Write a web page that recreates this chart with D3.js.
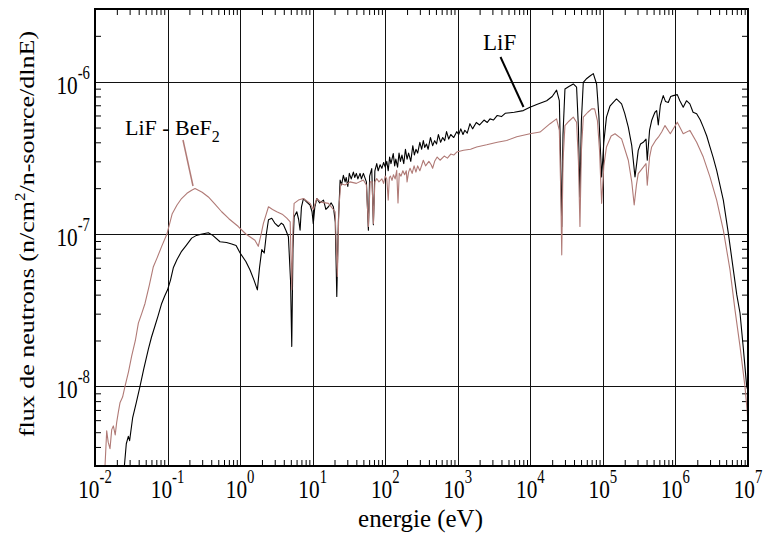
<!DOCTYPE html>
<html><head><meta charset="utf-8">
<script src="https://cdn.jsdelivr.net/npm/d3@7"></script>
<style>body{margin:0;background:#fff}svg{display:block}text{font-family:"Liberation Serif","Times New Roman",Times,serif;fill:#000}</style>
</head><body>
<svg id="c" width="763" height="538"></svg>
<script>
// ---- data ----
const lifEnergy = [0.0254,0.027,0.0288,0.03,0.033,0.037,0.0417,0.047,0.0543,0.06,0.0672,0.074,0.083,0.091,0.1,0.11,0.12,0.135,0.156,0.18,0.215,0.25,0.3,0.365,0.42,0.528,0.65,0.766,0.88,1.0,1.2,1.37,1.55,1.73,1.85,1.99,2.15,2.3,2.46,2.73,3.0,3.37,3.7,3.95,4.3,4.63,4.95,5.15,5.35,5.55,6.04,6.4,6.71,7.0,7.46,8.3,9.2,9.8,10.2,10.7,11.4,12.5,14.1,15.2,16.5,18,19.3,20.5,21.5,22.6,23.9,25,26.5,28,29,30.5,32,34,36.4,38,40,42,45,47,50,55,58.6,61,65.2,68.7,72,76.4,80,85,90,95,100,105,110,115,120,129,135,140,148,155,162,170,180,190,200,210,225,240,252,265,280,300,318,335,350,370,390,420,450,480,510,540,580,620,660,700,750,800,880,966,1030,1100,1180,1250,1350,1472,1600,1800,2000,2300,2550,2780,3100,3500,4000,4500,6000,8000,9880,12500,16800,20000,23000,25100,26200,27100,28200,30000,34000,39100,43400,46000,48300,50500,53700,60000,66400,73800,81900,88000,96100,103000,112000,125000,139000,154000,181000,200000,224000,250000,277000,292000,307000,330000,360000,393000,409000,440000,470000,500000,522000,551000,580000,620000,679000,730000,796000,860000,933000,1060000,1150000,1280000,1420000,1580000,1750000,1960000,2200000,2420000,2700000,2990000,3300000,3700000,4100000,4570000,5360000,6280000,7000000,7760000,8600000,9600000,10000000];
const lifFlux = [3.0e-9,4.2e-9,4.7e-9,4.4e-9,6.2e-9,7.8e-9,1.0e-8,1.3e-8,1.75e-8,2.1e-8,2.5e-8,2.9e-8,3.5e-8,3.9e-8,4.3e-8,5.0e-8,6.0e-8,6.8e-8,7.7e-8,8.4e-8,9.4e-8,9.8e-8,1.0e-7,1.02e-7,9.8e-8,8.9e-8,8.8e-8,8.6e-8,8.4e-8,7.5e-8,6.6e-8,5.8e-8,5.0e-8,4.3e-8,6.0e-8,7.9e-8,7.5e-8,1.0e-7,1.24e-7,1.27e-7,1.18e-7,1.12e-7,1.18e-7,1.15e-7,1.05e-7,9.6e-8,5.0e-8,1.83e-8,8.0e-8,1.3e-7,1.4e-7,1.25e-7,1.06e-7,1.5e-7,1.71e-7,1.62e-7,1.55e-7,1.4e-7,1.17e-7,1.5e-7,1.71e-7,1.6e-7,1.67e-7,1.45e-7,1.51e-7,1.6e-7,1.51e-7,1.2e-7,3.89e-8,1.2e-7,2.26e-7,2.1e-7,2.43e-7,2.2e-7,2.35e-7,2.05e-7,2.5e-7,2.3e-7,2.55e-7,2.35e-7,2.5e-7,2.3e-7,2.5e-7,2.3e-7,2.5e-7,2.2e-7,1.06e-7,2.4e-7,2.69e-7,1.15e-7,2.6e-7,2.9e-7,2.6e-7,2.85e-7,2.7e-7,2.95e-7,2.75e-7,3.0e-7,2.6e-7,3.2e-7,2.9e-7,3.37e-7,2.8e-7,3.1e-7,2.75e-7,3.4e-7,3.0e-7,3.3e-7,2.9e-7,3.6e-7,3.1e-7,3.4e-7,3.0e-7,3.8e-7,3.3e-7,3.6e-7,3.4e-7,4.0e-7,3.6e-7,4.11e-7,3.7e-7,3.9e-7,3.6e-7,4.3e-7,3.8e-7,4.1e-7,3.9e-7,4.5e-7,4.0e-7,4.3e-7,4.1e-7,4.7e-7,4.2e-7,4.5e-7,4.3e-7,4.7e-7,4.5e-7,4.9e-7,4.5e-7,4.8e-7,4.6e-7,5.3e-7,4.9e-7,5.4e-7,5.2e-7,5.6e-7,5.4e-7,5.7e-7,5.6e-7,6.0e-7,5.9e-7,6.2e-7,6.3e-7,6.46e-7,6.8e-7,7.1e-7,7.5e-7,8.0e-7,8.8e-7,7.5e-7,3.0e-7,1.12e-7,4.5e-7,8.96e-7,9.3e-7,9.66e-7,9.2e-7,5.0e-7,1.75e-7,5.5e-7,9.9e-7,1.05e-6,1.09e-6,1.13e-6,9.66e-7,6.0e-7,2.37e-7,4.0e-7,5.85e-7,6.9e-7,7.32e-7,7.7e-7,7.15e-7,6.2e-7,5.03e-7,3.8e-7,2.37e-7,2.9e-7,3.54e-7,3.9e-7,4.0e-7,4.2e-7,3.05e-7,4.8e-7,5.56e-7,6.0e-7,6.3e-7,6.46e-7,5.2e-7,7.0e-7,8.1e-7,7.4e-7,7.3e-7,8.0e-7,8.1e-7,8.22e-7,7.5e-7,6.79e-7,7.5e-7,7.15e-7,6.3e-7,6.15e-7,5.6e-7,5.03e-7,4.4e-7,3.73e-7,3.2e-7,2.62e-7,2.1e-7,1.67e-7,1.01e-7,5.82e-8,4.0e-8,3.03e-8,1.8e-8,1.0e-8,9.3e-9];

const befEnergy = [0.01374,0.0145,0.0152,0.0161,0.017,0.0179,0.019,0.0199,0.021,0.0221,0.024,0.0259,0.029,0.032,0.036,0.0396,0.044,0.0489,0.056,0.0637,0.072,0.083,0.098,0.116,0.135,0.156,0.185,0.215,0.239,0.3,0.365,0.45,0.557,0.7,0.944,1.2,1.6,1.78,1.95,2.09,2.46,2.8,3.2,3.8,4.4,4.9,5.15,5.35,5.55,6.37,7.46,9.2,10.2,11.4,13,16.5,20.4,21.9,23.0,24.4,28,32.7,40,50,55,58.6,62,66,68.7,72,76.4,82,90,95,100,105,110,114,118,124,130,137,144,150,156,165,175,185,195,200,210,220,235,250,265,280,300,320,335,360,400,430,450,480,520,570,650,720,800,880,966,1200,1500,1820,2500,3500,4720,6500,9880,13600,18700,23000,25100,26200,27100,28200,30000,34000,39100,43400,46000,48300,50500,53700,62000,70000,77000,84000,90000,96100,103000,112000,130000,147000,181000,224000,250000,270000,290000,307000,350000,393000,409000,440000,470000,530000,581000,646000,718000,850000,1060000,1280000,1580000,1960000,2420000,2990000,3700000,4570000,5650000,6610000,7760000,9080000,9800000,10000000];
const befFlux = [3.0e-9,5.1e-9,4.3e-9,3.9e-9,5.2e-9,5.5e-9,4.8e-9,5.8e-9,6.8e-9,7.8e-9,8.5e-9,1.0e-8,1.25e-8,1.58e-8,2.0e-8,2.6e-8,3.0e-8,3.5e-8,4.6e-8,6.1e-8,7.0e-8,8.3e-8,1.0e-7,1.36e-7,1.55e-7,1.71e-7,1.85e-7,1.94e-7,1.99e-7,1.88e-7,1.75e-7,1.57e-7,1.4e-7,1.26e-7,1.12e-7,1.0e-7,9.1e-8,8.3e-8,1.0e-7,1.17e-7,1.51e-7,1.45e-7,1.4e-7,1.35e-7,1.27e-7,1.2e-7,4.3e-8,1.1e-7,1.59e-7,1.67e-7,1.71e-7,1.59e-7,1.45e-7,1.71e-7,1.62e-7,1.59e-7,1.4e-7,5.26e-8,1.5e-7,2.14e-7,2.1e-7,2.2e-7,2.15e-7,2.26e-7,2.1e-7,1.12e-7,2.2e-7,2.2e-7,1.17e-7,2.2e-7,2.31e-7,2.2e-7,2.3e-7,2.15e-7,2.4e-7,2.3e-7,1.67e-7,2.35e-7,2.4e-7,2.25e-7,2.45e-7,2.3e-7,2.62e-7,1.6e-7,2.5e-7,2.4e-7,2.6e-7,2.45e-7,2.6e-7,2.2e-7,2.55e-7,2.7e-7,2.5e-7,2.8e-7,2.55e-7,2.8e-7,2.6e-7,2.85e-7,3.05e-7,2.8e-7,3.0e-7,2.85e-7,2.7e-7,3.0e-7,3.2e-7,3.05e-7,3.25e-7,3.15e-7,3.35e-7,3.3e-7,3.45e-7,3.55e-7,3.6e-7,3.73e-7,3.85e-7,4.0e-7,4.11e-7,4.35e-7,4.55e-7,4.67e-7,5.3e-7,5.7e-7,4.79e-7,2.0e-7,7.3e-8,3.0e-7,5.15e-7,5.5e-7,5.85e-7,5.42e-7,3.0e-7,1.12e-7,3.5e-7,5.85e-7,6.3e-7,6.63e-7,6.63e-7,5.56e-7,3.5e-7,1.59e-7,2.8e-7,3.73e-7,4.4e-7,4.55e-7,4.21e-7,3.05e-7,2.2e-7,1.55e-7,2.1e-7,2.49e-7,2.7e-7,2.9e-7,2.09e-7,3.2e-7,3.73e-7,4.1e-7,4.32e-7,4.67e-7,5.15e-7,4.55e-7,5.42e-7,4.55e-7,4.79e-7,4.0e-7,3.2e-7,2.37e-7,1.67e-7,1.06e-7,5.82e-8,3.19e-8,1.83e-8,1.0e-8,6.7e-9,5.5e-9];

const xTickExps = [-2,-1,0,1,2,3,4,5,6,7];
const yTickExps = [-8,-7,-6];
const xTitle = "energie (eV)";
const yTitleMain = "flux de neutrons (n/cm";
const yTitleRest = "/n-source/dlnE)";

// ---- layout ----
const FONT = "'Liberation Serif', 'Times New Roman', Times, serif";
const L = 95, R = 748, T = 9, B = 466;
const svg = d3.select("#c");
const x = d3.scaleLog().domain([1e-2, 1e7]).range([L, R]);
const y = d3.scaleLog().domain([3e-9, 3e-6]).range([B, T]);

// minor tick values
const xMinor = [];
for (let d = -2; d < 7; d++) for (let m = 2; m <= 9; m++) xMinor.push(m * Math.pow(10, d));
const yMinor = [];
for (let d = -9; d < -5; d++) for (let m = 2; m <= 9; m++) { const v = m * Math.pow(10, d); if (v >= 3e-9 && v <= 3e-6) yMinor.push(v); }

// grid
const gGrid = svg.append("g").attr("stroke", "#111").attr("stroke-width", 1).attr("shape-rendering", "crispEdges");
xTickExps.filter(e => e > -2 && e < 7).forEach(e => {
  const px = Math.round(x(Math.pow(10, e))) + 0.5;
  gGrid.append("line").attr("x1", px).attr("x2", px).attr("y1", T).attr("y2", B);
});
yTickExps.forEach(e => {
  const py = Math.round(y(Math.pow(10, e))) + 0.5;
  gGrid.append("line").attr("y1", py).attr("y2", py).attr("x1", L).attr("x2", R);
});

// minor ticks via axes (inward)
function styleAxis(g) { g.select(".domain").remove(); g.selectAll("text").remove(); g.selectAll("line").attr("stroke", "#000").attr("stroke-width", 1); }
svg.append("g").attr("transform", `translate(0,${B})`).call(d3.axisBottom(x).tickValues(xMinor).tickSize(-6)).call(styleAxis);
svg.append("g").attr("transform", `translate(0,${T})`).call(d3.axisTop(x).tickValues(xMinor).tickSize(-6)).call(styleAxis);
svg.append("g").attr("transform", `translate(${L},0)`).call(d3.axisLeft(y).tickValues(yMinor).tickSize(-6)).call(styleAxis);
svg.append("g").attr("transform", `translate(${R},0)`).call(d3.axisRight(y).tickValues(yMinor).tickSize(-6)).call(styleAxis);

// curves
svg.append("clipPath").attr("id", "clip").append("rect").attr("x", L).attr("y", T).attr("width", R - L).attr("height", B - T);
const line = d3.line().x(d => x(d[0])).y(d => y(d[1]));
const lifData = lifEnergy.map((e, i) => [e, lifFlux[i]]);
const befData = befEnergy.map((e, i) => [e, befFlux[i]]);
svg.append("path").datum(lifData).attr("clip-path", "url(#clip)").attr("d", line)
  .attr("fill", "none").attr("stroke", "#000").attr("stroke-width", 1.1).attr("stroke-linejoin", "round");
svg.append("path").datum(befData).attr("clip-path", "url(#clip)").attr("d", line)
  .attr("fill", "none").attr("stroke", "#b07a76").attr("stroke-width", 1.1).attr("stroke-linejoin", "round");

// frame
svg.append("rect").attr("x", L).attr("y", T).attr("width", R - L).attr("height", B - T)
  .attr("fill", "none").attr("stroke", "#000").attr("stroke-width", 2);

// x tick labels
xTickExps.forEach(e => {
  const t = svg.append("g").attr("transform", `translate(${x(Math.pow(10, e))},498) scale(0.82,1)`)
    .append("text").attr("font-family", FONT).attr("text-anchor", "middle").attr("font-size", 26);
  t.append("tspan").text("10");
  t.append("tspan").attr("font-size", 18).attr("dy", -15).text(String(e));
});
// y tick labels
yTickExps.forEach(e => {
  const t = svg.append("g").attr("transform", `translate(90,${y(Math.pow(10, e)) + 12}) scale(0.82,1)`)
    .append("text").attr("font-family", FONT).attr("text-anchor", "end").attr("font-size", 26);
  t.append("tspan").text("10");
  t.append("tspan").attr("font-size", 18).attr("dy", -15).text(String(e));
});

// axis titles
svg.append("g").attr("transform", "translate(420.5,527) scale(0.96,1)")
  .append("text").attr("font-family", FONT).attr("text-anchor", "middle").attr("font-size", 26).text(xTitle);
const yt = svg.append("g").attr("transform", "translate(34,234) rotate(-90) scale(1,0.82)")
  .append("text").attr("font-family", FONT).attr("text-anchor", "middle").attr("font-size", 26);
yt.append("tspan").text(yTitleMain);
yt.append("tspan").attr("font-size", 17).attr("dy", -11).text("2");
yt.append("tspan").attr("dy", 11).text(yTitleRest);

// annotations
const a1 = svg.append("text").attr("font-family", FONT).attr("x", 125).attr("y", 135).attr("font-size", 22);
a1.append("tspan").text("LiF - BeF");
a1.append("tspan").attr("font-size", 16).attr("dy", 7).text("2");
svg.append("line").attr("x1", 183).attr("y1", 140).attr("x2", 193).attr("y2", 186).attr("stroke", "#b07a76").attr("stroke-width", 1.5);
svg.append("text").attr("font-family", FONT).attr("x", 483).attr("y", 50).attr("font-size", 23).text("LiF");
svg.append("line").attr("x1", 500.5).attr("y1", 57).attr("x2", 523.5).attr("y2", 107).attr("stroke", "#000").attr("stroke-width", 2);
</script>
</body></html>
